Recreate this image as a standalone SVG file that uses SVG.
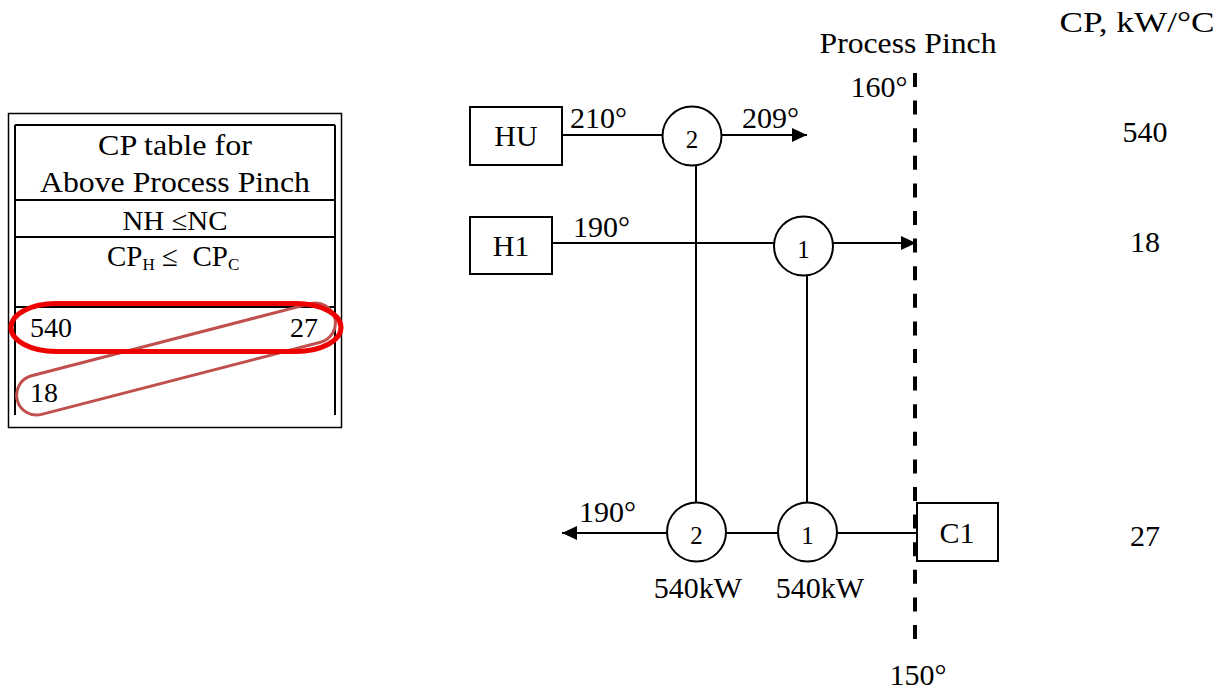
<svg xmlns="http://www.w3.org/2000/svg" width="1224" height="689" viewBox="0 0 1224 689">
<defs>
<style>
text{font-family:"Liberation Serif","Times New Roman",serif;fill:#000}
.t{font-size:30px}
.s{font-size:28px}
.c{font-size:25px;text-anchor:middle}
.m{text-anchor:middle}
.ln{stroke:#000;stroke-width:2;fill:none}
.box{stroke:#000;stroke-width:2;fill:#fff}
.hx{stroke:#000;stroke-width:2;fill:#fff}
</style>
<marker id="ah" viewBox="0 0 15 14" refX="15" refY="7" markerWidth="15" markerHeight="14" markerUnits="userSpaceOnUse" orient="auto">
<path d="M0,0 L15,7 L0,14 Z" fill="#000"/>
</marker>
</defs>
<rect width="1224" height="689" fill="#fff"/>

<g id="cp-table">
<rect x="8.5" y="113.5" width="333" height="314" fill="none" stroke="#000" stroke-width="1.5"/>
<line x1="15" y1="125" x2="335" y2="125" class="ln"/>
<line x1="15" y1="125" x2="15" y2="415" class="ln"/>
<line x1="335" y1="125" x2="335" y2="415" class="ln"/>
<line x1="15" y1="200" x2="335" y2="200" class="ln"/>
<line x1="15" y1="237" x2="335" y2="237" class="ln"/>
<line x1="15" y1="307" x2="335" y2="307" class="ln"/>
<text x="175" y="155" class="t m" font-size="31" textLength="154" lengthAdjust="spacingAndGlyphs">CP table for</text>
<text x="175" y="192" class="t m" font-size="31" textLength="270" lengthAdjust="spacingAndGlyphs">Above Process Pinch</text>
<text x="175" y="230" class="m" font-size="27" textLength="105" lengthAdjust="spacingAndGlyphs">NH ≤NC</text>
<text x="107" y="266" font-size="29" xml:space="preserve">CP<tspan font-size="17" dy="4">H</tspan><tspan dy="-4"> ≤  CP</tspan><tspan font-size="17" dy="4">C</tspan></text>
<text x="30" y="337" class="s">540</text>
<text x="318" y="337" class="s" text-anchor="end">27</text>
<text x="30" y="402" class="s">18</text>
<rect x="12" y="339" width="328" height="40" rx="20" ry="20" transform="rotate(-14.5 176 359)" fill="none" stroke="#c0504d" stroke-width="3"/>
<rect x="11" y="303.5" width="330" height="48" rx="45" ry="24" fill="none" stroke="#ee0000" stroke-width="5"/>
</g>

<g id="connectors">
<line x1="915" y1="73" x2="915" y2="648" stroke="#000" stroke-width="4" stroke-dasharray="14 13.6"/>
<line x1="562" y1="135" x2="663" y2="135" class="ln"/>
<line x1="722" y1="135" x2="807" y2="135" class="ln" marker-end="url(#ah)"/>
<line x1="552" y1="243" x2="774" y2="243" class="ln"/>
<line x1="833" y1="243" x2="916" y2="243" class="ln" marker-end="url(#ah)"/>
<line x1="696" y1="165" x2="696" y2="503" class="ln"/>
<line x1="807" y1="275" x2="807" y2="503" class="ln"/>
<line x1="917" y1="533" x2="837" y2="533" class="ln"/>
<line x1="778" y1="533" x2="726" y2="533" class="ln"/>
<line x1="667" y1="533" x2="562" y2="533" class="ln" marker-end="url(#ah)"/>
</g>

<g id="HU">
<rect x="470" y="107" width="92" height="58" class="box"/>
<text x="516" y="146" class="t m">HU</text>
</g>
<g id="H1">
<rect x="470" y="217" width="82" height="57" class="box"/>
<text x="511" y="256" class="t m">H1</text>
</g>
<g id="C1">
<rect x="917" y="503" width="81" height="58" class="box"/>
<text x="957" y="543" class="t m">C1</text>
</g>
<g id="hx2-top">
<circle cx="692" cy="136" r="29.5" class="hx"/>
<text x="692" y="148" class="c">2</text>
</g>
<g id="hx1-top">
<circle cx="803.5" cy="246" r="29.5" class="hx"/>
<text x="803.5" y="258" class="c">1</text>
</g>
<g id="hx2-bottom">
<circle cx="696.5" cy="532" r="29.5" class="hx"/>
<text x="696.5" y="544" class="c">2</text>
</g>
<g id="hx1-bottom">
<circle cx="807.5" cy="532" r="29.5" class="hx"/>
<text x="807.5" y="544" class="c">1</text>
</g>

<g id="labels">
<text x="908" y="53" class="t m" textLength="177" lengthAdjust="spacingAndGlyphs">Process Pinch</text>
<text x="1137" y="32" class="t m" textLength="155" lengthAdjust="spacingAndGlyphs">CP, kW/°C</text>
<text x="879" y="97" class="t m">160°</text>
<text x="918" y="685" class="t m">150°</text>
<text x="570" y="128" class="t">210°</text>
<text x="742" y="128" class="t">209°</text>
<text x="573" y="237" class="t">190°</text>
<text x="579" y="522" class="t">190°</text>
<text x="698" y="598" class="t m">540kW</text>
<text x="820" y="598" class="t m">540kW</text>
<text x="1145" y="142" class="t m">540</text>
<text x="1145" y="252" class="t m">18</text>
<text x="1145" y="546" class="t m">27</text>
</g>
</svg>
